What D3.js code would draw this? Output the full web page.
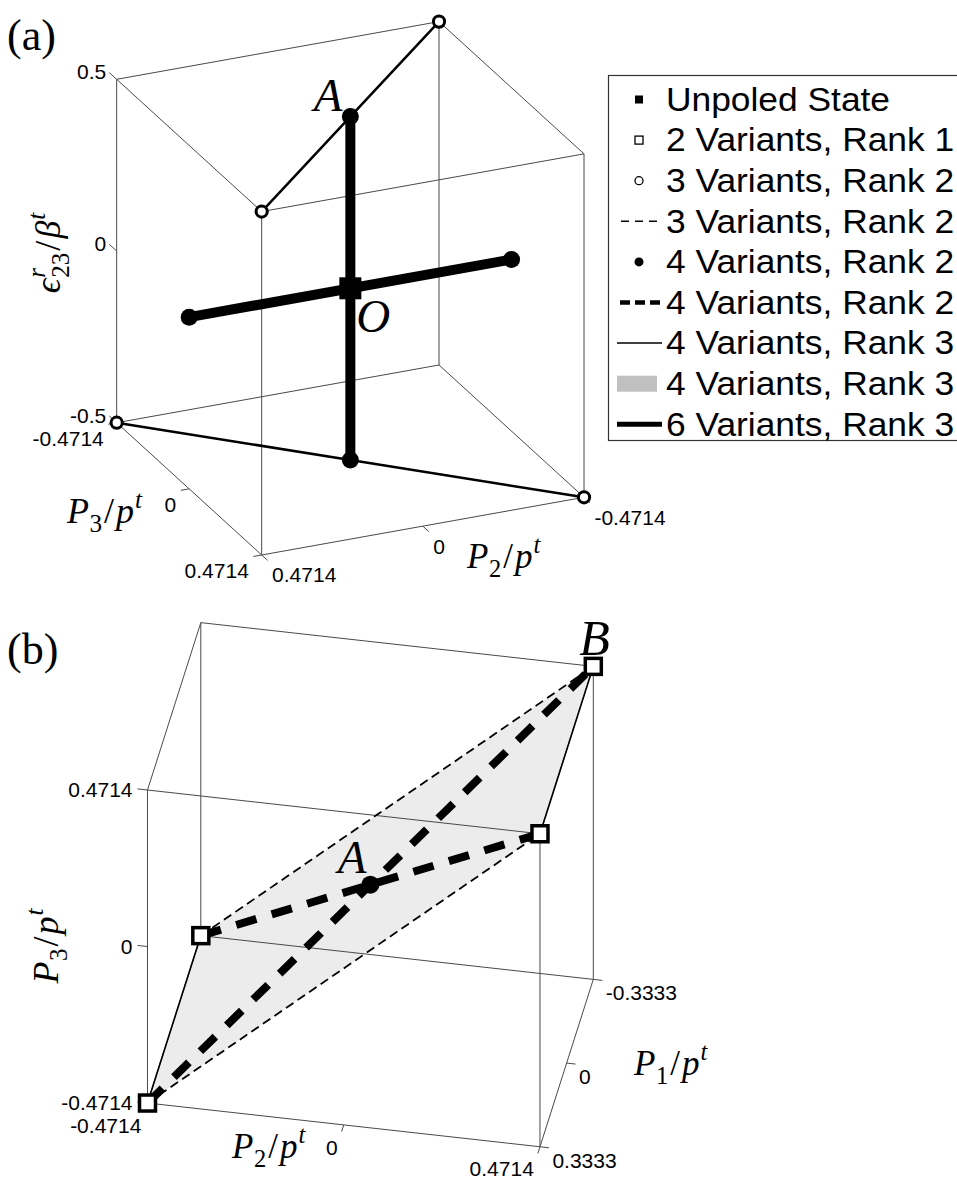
<!DOCTYPE html>
<html><head><meta charset="utf-8">
<script src="https://cdn.jsdelivr.net/npm/d3@7"></script>
<style>body{margin:0;background:#fff}svg{display:block}</style>
</head><body>
<svg id="fig" width="957" height="1180"></svg>
<script>
// ---------- Panel (a): coordinates are [P2, P3, eps23] ----------
const aDomains = [[-0.4714, 0.4714], [-0.4714, 0.4714], [-0.5, 0.5]];
const aP2Ticks = [-0.4714, 0, 0.4714];
const aP2TickLabels = ["-0.4714", "0", "0.4714"];
const aP3Ticks = [-0.4714, 0, 0.4714];
const aP3TickLabels = ["-0.4714", "0", "0.4714"];
const aETicks = [-0.5, 0, 0.5];
const aETickLabels = ["-0.5", "0", "0.5"];

const aUnpoled = [[0, 0, 0]];
const aThreeVarPoints = [[-0.4714, -0.4714, 0.5], [0.4714, 0.4714, 0.5], [0.4714, -0.4714, -0.5], [-0.4714, 0.4714, -0.5]];
const aFourVarPoints = [[0, 0, 0.5], [0, 0, -0.5], [0.4714, 0, 0], [-0.4714, 0, 0]];
const aFourVarRank3Lines = [
  [[0.4714, 0.4714, 0.5], [0, 0, 0.5], [-0.4714, -0.4714, 0.5]],
  [[0.4714, -0.4714, -0.5], [0, 0, -0.5], [-0.4714, 0.4714, -0.5]]
];
const aSixVarLines = [
  [[0, 0, 0.5], [0, 0, -0.5]],
  [[0.4714, 0, 0], [-0.4714, 0, 0]]
];

// ---------- Panel (b): coordinates are [P2, P1, P3] ----------
const bDomains = [[-0.4714, 0.4714], [-0.3333, 0.3333], [-0.4714, 0.4714]];
const bP2Ticks = [-0.4714, 0, 0.4714];
const bP2TickLabels = ["-0.4714", "0", "0.4714"];
const bP1Ticks = [-0.3333, 0, 0.3333];
const bP1TickLabels = ["-0.3333", "0", "0.3333"];
const bP3Ticks = [-0.4714, 0, 0.4714];
const bP3TickLabels = ["-0.4714", "0", "0.4714"];

const bTwoVarPoints = [[0.4714, -0.3333, 0.4714], [-0.4714, 0.3333, -0.4714], [-0.4714, -0.3333, -0.4714], [0.4714, 0.3333, 0.4714]];
const bFourVarPoints = [[0, 0, 0]];
const bThreeVarLines = [
  [[-0.4714, -0.3333, -0.4714], [0.4714, -0.3333, 0.4714]],
  [[-0.4714, 0.3333, -0.4714], [0.4714, 0.3333, 0.4714]]
];
const bFourVarRank2Lines = [
  [[-0.4714, 0.3333, -0.4714], [0.4714, -0.3333, 0.4714]],
  [[-0.4714, -0.3333, -0.4714], [0.4714, 0.3333, 0.4714]]
];
const bFourVarRank3Lines = [
  [[-0.4714, 0.3333, -0.4714], [-0.4714, -0.3333, -0.4714]],
  [[0.4714, 0.3333, 0.4714], [0.4714, -0.3333, 0.4714]]
];
const bFourVarRank3Patch = [[-0.4714, 0.3333, -0.4714], [-0.4714, -0.3333, -0.4714], [0.4714, -0.3333, 0.4714], [0.4714, 0.3333, 0.4714]];

const legendLabels = ["Unpoled State", "2 Variants, Rank 1", "3 Variants, Rank 2", "3 Variants, Rank 2",
  "4 Variants, Rank 2", "4 Variants, Rank 2", "4 Variants, Rank 3", "4 Variants, Rank 3", "6 Variants, Rank 3"];
const legendKinds = ["square", "openSquare", "openCircle", "thinDash", "dot", "thickDash", "thinLine", "patch", "thickLine"];

// ---------- helpers ----------
const svg = d3.select("#fig");
const SANS = "'Liberation Sans', Arial, sans-serif";
const SERIF = "'Liberation Serif', 'DejaVu Serif', serif";

// Orthographic 3-D view: one linear scale per axis and per screen component.
function makeView(center, domains, unitVecs) {
  const sx = unitVecs.map(u => d3.scaleLinear().domain([0, 1]).range([0, u[0]]));
  const sy = unitVecs.map(u => d3.scaleLinear().domain([0, 1]).range([0, u[1]]));
  const proj = p => [center[0] + d3.sum(p, (v, i) => sx[i](v)), center[1] + d3.sum(p, (v, i) => sy[i](v))];
  const dir = i => { const u = unitVecs[i], l = Math.hypot(u[0], u[1]); return [u[0] / l, u[1] / l]; };
  return { proj, dir, domains };
}
const line = d3.line();

function boxEdges(g, view) {
  const d = view.domains, edges = [];
  for (let ax = 0; ax < 3; ax++) {
    const o = [0, 1, 2].filter(k => k !== ax);
    for (const a of d[o[0]]) for (const b of d[o[1]]) {
      const p = [0, 0, 0], q = [0, 0, 0];
      p[o[0]] = q[o[0]] = a; p[o[1]] = q[o[1]] = b;
      p[ax] = d[ax][0]; q[ax] = d[ax][1];
      edges.push([view.proj(p), view.proj(q)]);
    }
  }
  g.selectAll(null).data(edges).join("path").attr("d", e => line(e))
    .attr("stroke", "#4a4a4a").attr("stroke-width", 1).attr("fill", "none");
}

function ticks(g, view, values, labels, basePoint, axis, dirSign, dirAxis, len, anchor, off) {
  const dv = view.dir(dirAxis);
  values.forEach((v, i) => {
    const p = basePoint.slice(); p[axis] = v;
    const s = view.proj(p);
    const e = [s[0] + dirSign * dv[0] * len, s[1] + dirSign * dv[1] * len];
    g.append("line").attr("x1", s[0]).attr("y1", s[1]).attr("x2", e[0]).attr("y2", e[1])
      .attr("stroke", "#4a4a4a").attr("stroke-width", 1);
    g.append("text").attr("x", e[0] + off[0]).attr("y", e[1] + off[1]).attr("dy", "0.36em")
      .attr("text-anchor", anchor).attr("font-family", SANS).attr("font-size", 21).attr("fill", "#000")
      .text(labels[i]);
  });
}

// Math-style label: pieces laid out left to right; "stack" restarts at the previous piece's x.
function mathLabel(parent, pieces, size, transform, anchorFrac) {
  const outer = parent.append("g").attr("transform", transform);
  const g = outer.append("g");
  let x = 0, prevX = 0;
  pieces.forEach(p => {
    const fs = (p.sub || p.sup) ? size * 0.7 : size;
    const y = p.sub ? size * 0.26 : p.sup ? -size * 0.42 : 0;
    const x0 = (p.stack ? prevX : x) + (p.dx || 0);
    const t = g.append("text").attr("x", x0).attr("y", y).attr("font-family", SERIF)
      .attr("font-size", fs).attr("font-style", p.it ? "italic" : "normal").attr("fill", "#000").text(p.t);
    const w = t.node().getComputedTextLength();
    prevX = x0;
    x = Math.max(x, x0 + w + (p.gap || 0));
  });
  g.attr("transform", `translate(${-x * anchorFrac},0)`);
}

const pOverPt = sub => [
  { t: "P", it: true, gap: 0.5 }, { t: sub, sub: true, gap: 2 }, { t: "/", gap: 2 },
  { t: "p", it: true, gap: 1 }, { t: "t", it: true, sup: true }
];

// ---------- Panel (a) ----------
const viewA = makeView([350.35, 288.3], aDomains, [[-341.9, 61.2], [153.8, 140.3], [0, -343.4]]);
const gA = svg.append("g");
boxEdges(gA, viewA);
ticks(gA, viewA, aETicks, aETickLabels, [0.4714, -0.4714, 0], 2, -1, 1, 10, "end", [-3, -1]);
ticks(gA, viewA, aP3Ticks, aP3TickLabels, [0.4714, 0, -0.5], 1, 1, 0, 8.5, "end", [-4.5, 14]);
ticks(gA, viewA, aP2Ticks, aP2TickLabels, [0, 0.4714, -0.5], 0, 1, 1, 8, "start", [4.5, 14.5]);

gA.selectAll(null).data(aFourVarRank3Lines).join("path")
  .attr("d", d => line(d.map(viewA.proj))).attr("fill", "none")
  .attr("stroke", "#000").attr("stroke-width", 2.5);
gA.selectAll(null).data(aSixVarLines).join("path")
  .attr("d", d => line(d.map(viewA.proj))).attr("fill", "none")
  .attr("stroke", "#000").attr("stroke-width", 10);
gA.selectAll(null).data(aFourVarPoints).join("circle")
  .attr("cx", d => viewA.proj(d)[0]).attr("cy", d => viewA.proj(d)[1]).attr("r", 8.5).attr("fill", "#000");
gA.selectAll(null).data(aThreeVarPoints).join("circle")
  .attr("cx", d => viewA.proj(d)[0]).attr("cy", d => viewA.proj(d)[1]).attr("r", 5.6)
  .attr("fill", "#fff").attr("stroke", "#000").attr("stroke-width", 3);
gA.selectAll(null).data(aUnpoled).join("rect")
  .attr("x", d => viewA.proj(d)[0] - 11).attr("y", d => viewA.proj(d)[1] - 11)
  .attr("width", 22).attr("height", 22).attr("fill", "#000");

const ptA = viewA.proj(aFourVarPoints[0]);
gA.append("text").attr("x", ptA[0] - 8).attr("y", ptA[1] - 6).attr("text-anchor", "end")
  .attr("font-family", SERIF).attr("font-style", "italic").attr("font-size", 47).text("A");
const ptO = viewA.proj(aUnpoled[0]);
gA.append("text").attr("x", ptO[0] + 6).attr("y", ptO[1] + 44)
  .attr("font-family", SERIF).attr("font-style", "italic").attr("font-size", 47).text("O");

mathLabel(gA, [
  { t: "\u03F5", it: true, gap: 1 }, { t: "r", it: true, sup: true }, { t: "23", sub: true, stack: true, gap: 2 },
  { t: "/", gap: 2 }, { t: "\u03B2", it: true, gap: 1 }, { t: "t", it: true, sup: true }
], 36, "translate(60,253) rotate(-90)", 0.5);
mathLabel(gA, pOverPt("3"), 36, "translate(67,523)", 0);
mathLabel(gA, pOverPt("2"), 35, "translate(467,568)", 0);

svg.append("text").attr("x", 7).attr("y", 50).attr("font-family", SERIF).attr("font-size", 44).text("(a)");

// Legend
const gL = svg.append("g");
gL.append("rect").attr("x", 608.5).attr("y", 75.5).attr("width", 360).attr("height", 365)
  .attr("fill", "#fff").attr("stroke", "#333").attr("stroke-width", 1.2);
const rowY = i => 98.5 + i * 40.6;
legendLabels.forEach((lab, i) => {
  const y = rowY(i), my = y + 1, k = legendKinds[i];
  gL.append("text").attr("transform", `translate(666,${y}) scale(1.04,1)`).attr("dy", "0.36em")
    .attr("font-family", SANS).attr("font-size", 34).text(lab);
  if (k === "square") gL.append("rect").attr("x", 635).attr("y", my - 4).attr("width", 8).attr("height", 8).attr("fill", "#000");
  if (k === "openSquare") gL.append("rect").attr("x", 635).attr("y", my - 4).attr("width", 8).attr("height", 8)
    .attr("fill", "#fff").attr("stroke", "#000").attr("stroke-width", 1.3);
  if (k === "openCircle") gL.append("circle").attr("cx", 639).attr("cy", my).attr("r", 4)
    .attr("fill", "#fff").attr("stroke", "#000").attr("stroke-width", 1.3);
  if (k === "dot") gL.append("circle").attr("cx", 639).attr("cy", my).attr("r", 4.5).attr("fill", "#000");
  if (k === "thinDash") gL.append("line").attr("x1", 621).attr("x2", 662).attr("y1", my).attr("y2", my)
    .attr("stroke", "#000").attr("stroke-width", 1.5).attr("stroke-dasharray", "8,6");
  if (k === "thickDash") gL.append("line").attr("x1", 620).attr("x2", 662).attr("y1", my).attr("y2", my)
    .attr("stroke", "#000").attr("stroke-width", 4.5).attr("stroke-dasharray", "10,5");
  if (k === "thinLine") gL.append("line").attr("x1", 617).attr("x2", 662).attr("y1", my).attr("y2", my)
    .attr("stroke", "#000").attr("stroke-width", 1.5);
  if (k === "patch") gL.append("rect").attr("x", 617).attr("y", my - 8).attr("width", 40).attr("height", 16).attr("fill", "#c0c0c0");
  if (k === "thickLine") gL.append("line").attr("x1", 617).attr("x2", 662).attr("y1", my).attr("y2", my)
    .attr("stroke", "#000").attr("stroke-width", 5);
});

// ---------- Panel (b) ----------
const viewB = makeView([370.4, 884.7], bDomains, [[416.3, 46.4], [-80, 251.1], [0, -332]]);
const gB = svg.append("g");
gB.append("path").attr("d", line(bFourVarRank3Patch.map(viewB.proj)) + "Z")
  .attr("fill", "#ececec").attr("stroke", "none");
boxEdges(gB, viewB);
ticks(gB, viewB, bP3Ticks, bP3TickLabels, [-0.4714, 0.3333, 0], 2, -1, 0, 10, "end", [-5, 1]);
ticks(gB, viewB, bP2Ticks, bP2TickLabels, [0, 0.3333, -0.4714], 0, 1, 1, 7, "end", [-4, 15.5]);
ticks(gB, viewB, bP1Ticks, bP1TickLabels, [0.4714, 0, -0.4714], 1, 1, 0, 9, "start", [3.5, 12.5]);

gB.selectAll(null).data(bFourVarRank3Lines).join("path")
  .attr("d", d => line(d.map(viewB.proj))).attr("fill", "none")
  .attr("stroke", "#000").attr("stroke-width", 1.6);
gB.selectAll(null).data(bThreeVarLines).join("path")
  .attr("d", d => line(d.map(viewB.proj))).attr("fill", "none")
  .attr("stroke", "#000").attr("stroke-width", 1.8).attr("stroke-dasharray", "9,5");
gB.selectAll(null).data(bFourVarRank2Lines).join("path")
  .attr("d", d => line(d.map(viewB.proj))).attr("fill", "none")
  .attr("stroke", "#000").attr("stroke-width", 8).attr("stroke-dasharray", "21,16");
gB.selectAll(null).data(bFourVarPoints).join("circle")
  .attr("cx", d => viewB.proj(d)[0]).attr("cy", d => viewB.proj(d)[1]).attr("r", 9).attr("fill", "#000");
gB.selectAll(null).data(bTwoVarPoints).join("rect")
  .attr("x", d => viewB.proj(d)[0] - 8).attr("y", d => viewB.proj(d)[1] - 8)
  .attr("width", 16).attr("height", 16).attr("fill", "#fff").attr("stroke", "#000").attr("stroke-width", 3.5);

const ptAb = viewB.proj(bFourVarPoints[0]);
gB.append("text").attr("x", ptAb[0] - 4).attr("y", ptAb[1] - 12).attr("text-anchor", "end")
  .attr("font-family", SERIF).attr("font-style", "italic").attr("font-size", 47).text("A");
const ptB = viewB.proj(bTwoVarPoints[0]);
gB.append("text").attr("x", ptB[0] - 14).attr("y", ptB[1] - 11)
  .attr("font-family", SERIF).attr("font-style", "italic").attr("font-size", 50).text("B");

mathLabel(gB, pOverPt("3"), 36, "translate(58,946) rotate(-90)", 0.5);
mathLabel(gB, pOverPt("2"), 35, "translate(232,1158)", 0);
mathLabel(gB, pOverPt("1"), 35, "translate(634,1075)", 0);

svg.append("text").attr("x", 7).attr("y", 664).attr("font-family", SERIF).attr("font-size", 44).text("(b)");
</script>
</body></html>
